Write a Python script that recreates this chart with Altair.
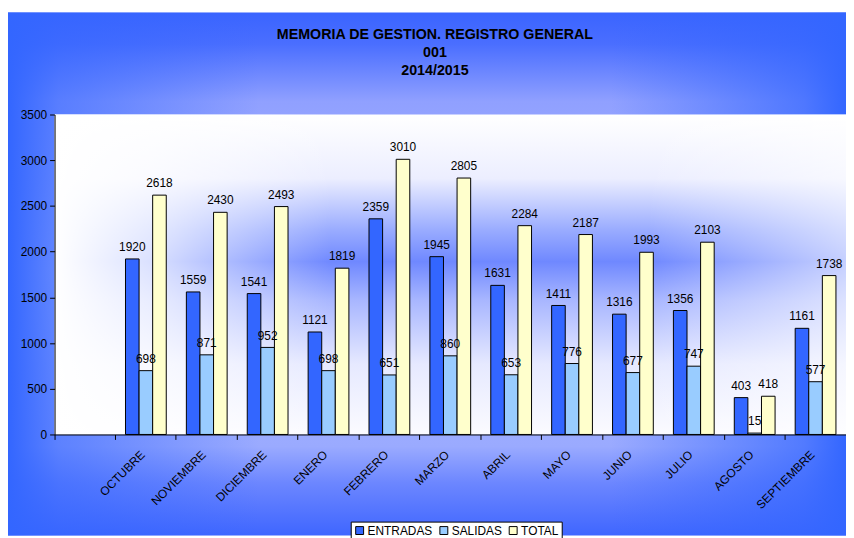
import altair as alt
import pandas as pd

title_lines = ["MEMORIA DE GESTION. REGISTRO GENERAL", "001", "2014/2015"]
months = ["OCTUBRE", "NOVIEMBRE", "DICIEMBRE", "ENERO", "FEBRERO", "MARZO",
          "ABRIL", "MAYO", "JUNIO", "JULIO", "AGOSTO", "SEPTIEMBRE"]
series = ["ENTRADAS", "SALIDAS", "TOTAL"]
entradas = [1920, 1559, 1541, 1121, 2359, 1945, 1631, 1411, 1316, 1356, 403, 1161]
salidas = [698, 871, 952, 698, 651, 860, 653, 776, 677, 747, 15, 577]
total = [2618, 2430, 2493, 1819, 3010, 2805, 2284, 2187, 1993, 2103, 418, 1738]
colors = ["#3366FF", "#99CCFF", "#FFFFCC"]
y_ticks = [0, 500, 1000, 1500, 2000, 2500, 3000, 3500]

rows = []
for s, vals in zip(series, [entradas, salidas, total]):
    for m, v in zip(months, vals):
        rows.append({"mes": m, "serie": s, "valor": v})
df = pd.DataFrame(rows)

domain = [""] + months
W, H = 799, 323
FONT = "Liberation Sans"

xenc = alt.X("mes:N", scale=alt.Scale(domain=domain, paddingInner=0, paddingOuter=0),
             sort=domain,
             axis=alt.Axis(title=None, labelAngle=-45, labelAlign="right", labelBaseline="middle",
                           labelPadding=13, labelFontSize=12, labelColor="black", labelFont=FONT,
                           tickColor="black", tickSize=5, domainColor="black", zindex=2,
                           bandPosition=0, labelOffset=-3, grid=False))
xoff = alt.XOffset("serie:N", sort=series,
                   scale=alt.Scale(domain=series, paddingInner=0, paddingOuter=0.74))
yenc = alt.Y("valor:Q", scale=alt.Scale(domain=[0, 3500], nice=False),
             axis=alt.Axis(title=None, values=y_ticks, format="d", labelFontSize=12,
                           labelColor="black", labelFont=FONT, tickColor="black", tickSize=5,
                           domainColor="black", grid=False, labelPadding=3, zindex=2))

one = pd.DataFrame({"a": [0]})

def stops(pairs):
    return [alt.GradientStop(color=c, offset=o) for o, c in pairs]

bg = alt.Chart(one).mark_rect(
    color=alt.LinearGradient(gradient="linear", x1=0, y1=0, x2=0, y2=1, stops=stops([
        (0, "#3a64ff"), (0.06, "#4a6eff"), (0.17, "#90a0ff"), (0.5, "#b0bcff"),
        (0.83, "#9aaaff"), (0.9, "#6c86ff"), (1.0, "#3f66ff")]))
).encode(x=alt.value(-47), x2=alt.value(W), y=alt.value(-103), y2=alt.value(H + 102))

bgfade = alt.Chart(one).mark_rect(
    color=alt.LinearGradient(gradient="linear", x1=0, y1=0, x2=1, y2=0, stops=stops([
        (0, "rgba(51,102,255,1)"), (0.06, "rgba(51,102,255,0.6)"), (0.3, "rgba(51,102,255,0)"),
        (0.72, "rgba(51,102,255,0)"), (0.95, "rgba(51,102,255,0.7)"), (1, "rgba(51,102,255,1)")]))
).encode(x=alt.value(-47), x2=alt.value(W), y=alt.value(-103), y2=alt.value(H + 102))

plotbg = alt.Chart(one).mark_rect(
    color=alt.LinearGradient(gradient="linear", x1=0, y1=0, x2=0, y2=1, stops=stops([
        (0, "#ffffff"), (0.2, "#eceeff"), (0.36, "#9aacff"), (0.46, "#6f88ff"),
        (0.58, "#a8b6ff"), (0.78, "#e6e9ff"), (1, "#fbfbff")]))
).encode(x=alt.value(0), x2=alt.value(W), y=alt.value(0), y2=alt.value(H))

plotfade = alt.Chart(one).mark_rect(
    color=alt.LinearGradient(gradient="linear", x1=0, y1=0, x2=1, y2=0, stops=stops([
        (0, "rgba(255,255,255,1)"), (0.12, "rgba(255,255,255,0.75)"),
        (0.35, "rgba(255,255,255,0)"), (0.75, "rgba(255,255,255,0)"),
        (1, "rgba(255,255,255,0.6)")]))
).encode(x=alt.value(0), x2=alt.value(W), y=alt.value(0), y2=alt.value(H))

bars = alt.Chart(df).mark_bar(stroke="black", strokeWidth=1).encode(
    x=xenc, xOffset=xoff, y=yenc,
    color=alt.Color("serie:N", sort=series,
                    scale=alt.Scale(domain=series, range=colors),
                    legend=alt.Legend(title=None, orient="none", legendX=299, legendY=411,
                                      direction="horizontal", fillColor="white",
                                      strokeColor="black", padding=3, symbolType="square",
                                      symbolSize=64, symbolStrokeColor="black",
                                      symbolStrokeWidth=1, labelFontSize=12, labelFont=FONT,
                                      labelColor="black", columnPadding=5, labelOffset=2,
                                      zindex=2))
)

labels = alt.Chart(df).mark_text(fontSize=12, font=FONT, color="black", baseline="alphabetic",
                                 dy=-8).encode(
    x=alt.X("mes:N", scale=alt.Scale(domain=domain), sort=domain),
    xOffset=alt.XOffset("serie:N", sort=series, scale=alt.Scale(domain=series)),
    y="valor:Q",
    text="valor:Q"
)

title = alt.Chart(pd.DataFrame({"t": ["\n".join(title_lines)]})).mark_text(
    fontSize=14.4, font=FONT, fontWeight="bold", color="black", lineBreak="\n",
    lineHeight=18, baseline="top", align="center"
).encode(x=alt.value(384), y=alt.value(-87), text="t:N")

chart = alt.layer(bg, bgfade, plotbg, plotfade, bars, labels, title).properties(
    width=W, height=H,
    autosize=alt.AutoSizeParams(type="none"),
    padding={"left": 47, "top": 105, "right": 0, "bottom": 102},
).configure_view(stroke="#999999", strokeWidth=1).configure(background="white")

chart.save("out.html", embed_options={"renderer": "svg", "actions": False})
